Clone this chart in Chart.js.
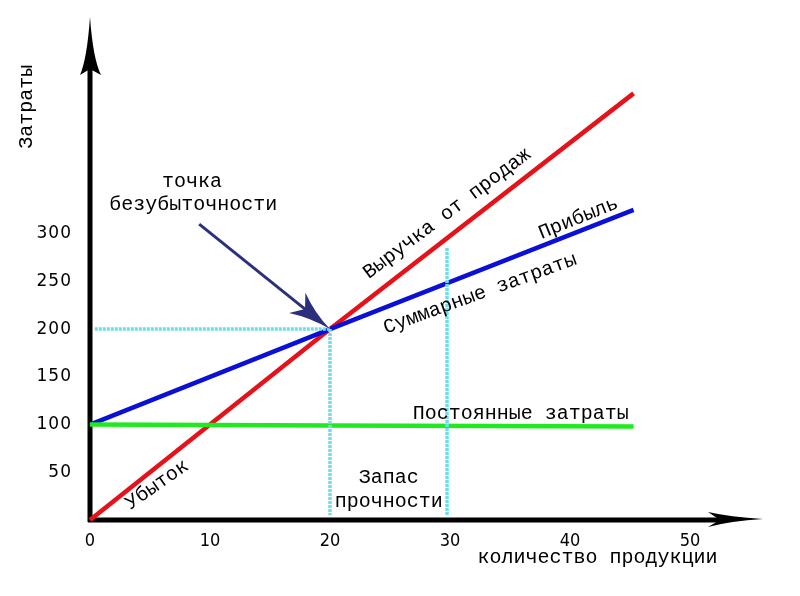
<!DOCTYPE html>
<html>
<head>
<meta charset="utf-8">
<script src="https://cdn.jsdelivr.net/npm/chart.js@4/dist/chart.umd.min.js"></script>
<style>
  html, body { margin: 0; padding: 0; background: #fff; }
  #wrap { width: 800px; height: 596px; position: relative; }
</style>
</head>
<body>
<div id="wrap"><canvas id="chart"></canvas></div>
<script>
// quantity of product (x) and money values (y)
const quantity = [0, 20, 45.3];
const revenue = [0, 200, 447];
const totalCost = [100, 200, 325];
const fixedCost = [100, 99, 98];

const breakEven = [20, 200];
const safetyEdge = 30;
const safetyTop = 285;

const xTicks = [0, 10, 20, 30, 40, 50];
const yTicks = [50, 100, 150, 200, 250, 300];

// text labels: [text, x, y, angle in degrees]
const notes = [
  ['Затраты', -5.3, 433, -90],
  ['точка', 8.5, 354, 0],
  ['безубыточности', 8.6, 330, 0],
  ['Выручка от продаж', 29.75, 321, -37],
  ['Прибыль', 40.7, 316, -22],
  ['Суммарные затраты', 32.5, 237, -20],
  ['Постоянные затраты', 35.9, 111, 0],
  ['Запас', 24.9, 44, 0],
  ['прочности', 24.9, 19, 0],
  ['Убыток', 5.6, 37, -35],
  ['количество продукции', 42.3, -40, 0]
];
const pointerStart = [9.1, 310];

const pts = (ys) => quantity.map((x, i) => ({ x: x, y: ys[i] }));

const lineStyle = (color) => ({
  borderColor: color,
  borderWidth: 4.5,
  pointRadius: 0,
  tension: 0,
  clip: false
});

const guide = {
  borderColor: '#6fdeec',
  borderWidth: 3.5,
  borderDash: [3, 1],
  pointRadius: 0,
  clip: false
};

const axesPlugin = {
  id: 'axes',
  beforeDatasetsDraw(chart) {
    const { ctx, chartArea: a } = chart;
    ctx.save();
    ctx.strokeStyle = '#000';
    ctx.fillStyle = '#000';
    ctx.lineWidth = 5;
    ctx.beginPath();
    ctx.moveTo(a.left, a.bottom + 2);
    ctx.lineTo(a.left, a.top + 50);
    ctx.moveTo(a.left - 2, a.bottom);
    ctx.lineTo(a.right - 45, a.bottom);
    ctx.stroke();

    // y arrow head
    ctx.beginPath();
    ctx.moveTo(a.left, a.top);
    ctx.quadraticCurveTo(a.left + 3, a.top + 42, a.left + 11, a.top + 58);
    ctx.lineTo(a.left, a.top + 52);
    ctx.lineTo(a.left - 10, a.top + 58);
    ctx.quadraticCurveTo(a.left - 3, a.top + 42, a.left, a.top);
    ctx.fill();

    // x arrow head
    ctx.beginPath();
    ctx.moveTo(a.right - 2, a.bottom - 1);
    ctx.quadraticCurveTo(a.right - 35, a.bottom - 3, a.right - 57, a.bottom - 8);
    ctx.lineTo(a.right - 45, a.bottom);
    ctx.lineTo(a.right - 57, a.bottom + 7);
    ctx.quadraticCurveTo(a.right - 35, a.bottom + 1, a.right - 2, a.bottom - 1);
    ctx.fill();
    ctx.restore();
  },
  afterDatasetsDraw(chart) {
    const { ctx } = chart;
    const sx = chart.scales.x, sy = chart.scales.y;
    ctx.save();
    ctx.fillStyle = '#000';
    ctx.textBaseline = 'middle';

    // tick labels
    ctx.font = '18px "DejaVu Sans Condensed", "DejaVu Sans", sans-serif';
    ctx.textAlign = 'center';
    xTicks.forEach(v => ctx.fillText(String(v), sx.getPixelForValue(v), sy.bottom + 21));
    ctx.font = '17px "DejaVu Sans", sans-serif';
    ctx.textAlign = 'right';
    ctx.letterSpacing = '1px';
    yTicks.forEach(v => ctx.fillText(String(v), sx.left - 18, sy.getPixelForValue(v)));
    ctx.letterSpacing = '0px';

    // text notes
    ctx.font = '20px "Liberation Mono", "Courier New", monospace';
    ctx.textAlign = 'center';
    notes.forEach(([t, x, y, ang]) => {
      ctx.save();
      ctx.translate(sx.getPixelForValue(x), sy.getPixelForValue(y));
      ctx.rotate(ang * Math.PI / 180);
      ctx.fillText(t, 0, 0);
      ctx.restore();
    });

    // pointer to break-even point
    const x0 = sx.getPixelForValue(pointerStart[0]), y0 = sy.getPixelForValue(pointerStart[1]);
    const x1 = sx.getPixelForValue(breakEven[0]), y1 = sy.getPixelForValue(breakEven[1]);
    const ang = Math.atan2(y1 - y0, x1 - x0);
    ctx.translate(x1, y1);
    ctx.rotate(ang);
    const len = Math.hypot(x1 - x0, y1 - y0);
    ctx.strokeStyle = '#2c2f7c';
    ctx.fillStyle = '#2c2f7c';
    ctx.lineWidth = 3;
    ctx.beginPath();
    ctx.moveTo(-len, 0);
    ctx.lineTo(-30, 0);
    ctx.stroke();
    ctx.beginPath();
    ctx.moveTo(0, 0);
    ctx.quadraticCurveTo(-22, -3, -42, -13);
    ctx.lineTo(-32, 0);
    ctx.lineTo(-42, 13);
    ctx.quadraticCurveTo(-22, 3, 0, 0);
    ctx.fill();
    ctx.restore();
  }
};

new Chart(document.getElementById('chart'), {
  type: 'line',
  data: {
    datasets: [
      Object.assign({ data: [{ x: 0.4, y: breakEven[1] }, { x: breakEven[0], y: breakEven[1] }] }, guide),
      Object.assign({ data: [{ x: breakEven[0], y: breakEven[1] }, { x: breakEven[0], y: 5 }] }, guide),
      Object.assign({ data: [{ x: safetyEdge - 0.25, y: safetyTop }, { x: safetyEdge - 0.25, y: 5 }] }, guide),
      Object.assign({ label: 'Постоянные затраты', data: pts(fixedCost) }, lineStyle('#1fea1f')),
      Object.assign({ label: 'Суммарные затраты', data: pts(totalCost) }, lineStyle('#0a10d4')),
      Object.assign({ label: 'Выручка от продаж', data: pts(revenue) }, lineStyle('#e5121a'))
    ]
  },
  options: {
    responsive: true,
    maintainAspectRatio: false,
    animation: false,
    layout: { padding: { left: 90, right: 35, top: 17, bottom: 76 } },
    plugins: { legend: { display: false }, tooltip: { enabled: false } },
    scales: {
      x: { type: 'linear', min: 0, max: 56.25, display: false },
      y: { type: 'linear', min: 0, max: 527, display: false }
    }
  },
  plugins: [axesPlugin]
});
</script>
</body>
</html>
